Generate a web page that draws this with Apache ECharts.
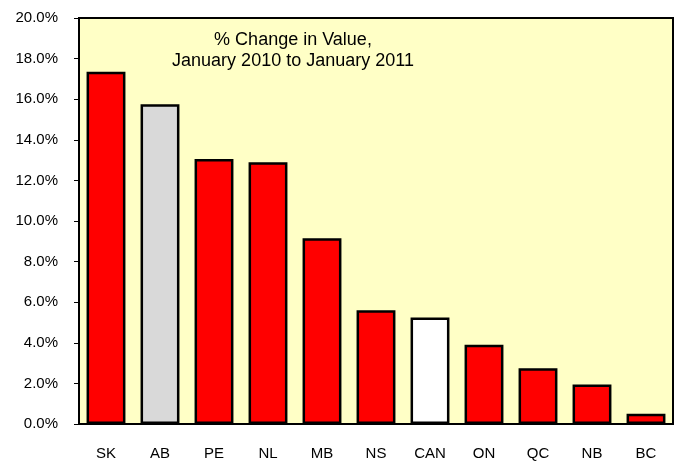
<!DOCTYPE html>
<html>
<head>
<meta charset="utf-8">
<script src="https://cdn.jsdelivr.net/npm/echarts@6/dist/echarts.min.js"></script>
<style>
  html, body { margin: 0; padding: 0; background: #fff; }
  #chart { width: 675px; height: 461px; }
</style>
</head>
<body>
<div id="chart"></div>
<script>
var provinces = ['SK', 'AB', 'PE', 'NL', 'MB', 'NS', 'CAN', 'ON', 'QC', 'NB', 'BC'];
var pctChange = [17.35, 15.75, 13.05, 12.9, 9.15, 5.6, 5.25, 3.9, 2.75, 1.95, 0.5];
var barColors = ['#FF0000', '#D9D9D9', '#FF0000', '#FF0000', '#FF0000', '#FF0000', '#FFFFFF', '#FF0000', '#FF0000', '#FF0000', '#FF0000'];

var chartDom = document.getElementById('chart');
var myChart = echarts.init(chartDom);

var seriesData = pctChange.map(function (v, i) {
  return { value: v, itemStyle: { color: barColors[i] } };
});

var option = {
  animation: false,
  textStyle: { fontFamily: 'Liberation Sans, Arial, sans-serif' },
  title: {
    text: '% Change in Value,\nJanuary 2010 to January 2011',
    left: 288,
    top: 25,
    textAlign: 'center',
    textStyle: {
      fontSize: 18,
      fontWeight: 'normal',
      color: '#000',
      lineHeight: 21,
      fontFamily: 'Liberation Sans, Arial, sans-serif'
    }
  },
  grid: {
    left: 79,
    right: 2,
    top: 18,
    bottom: 36,
    show: true,
    backgroundColor: '#FFFFC6',
    borderColor: '#000',
    borderWidth: 2
  },
  xAxis: {
    type: 'category',
    data: provinces,
    axisLine: { lineStyle: { color: '#000', width: 2 } },
    axisTick: { show: false },
    axisLabel: { color: '#000', fontSize: 15, margin: 22 }
  },
  yAxis: {
    type: 'value',
    min: 0,
    max: 20,
    interval: 2,
    axisLine: { show: true, lineStyle: { color: '#000', width: 2 } },
    axisTick: { show: true, length: 5, lineStyle: { color: '#000' } },
    splitLine: { show: false },
    axisLabel: {
      color: '#000',
      fontSize: 15,
      margin: 21,
      formatter: function (v) { return v.toFixed(1) + '%'; }
    }
  },
  series: [
    {
      type: 'bar',
      data: seriesData,
      barCategoryGap: '28%',
      itemStyle: { borderColor: '#000', borderWidth: 2.5 }
    }
  ]
};
option && myChart.setOption(option);
</script>
</body>
</html>
